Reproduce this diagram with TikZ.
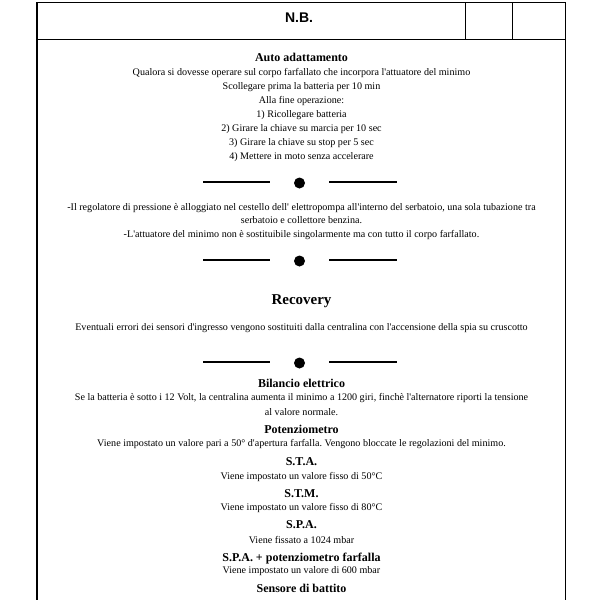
\documentclass[tikz,border=0pt]{standalone}
\usepackage{fontspec}
\setmainfont{Liberation Serif}[Ligatures=TeXOff]
\newfontfamily\nbfont{Liberation Sans}
\frenchspacing

\begin{document}
\begin{tikzpicture}[x=1pt,y=-1pt,inner sep=0pt,outer sep=0pt,
txt/.style={anchor=base,font=\fontsize{10.1}{12}\selectfont},
head/.style={anchor=base,font=\fontsize{12}{14}\selectfont\bfseries},
frameline/.style={line width=1.4pt},
sepline/.style={line width=1.1pt}]
\useasboundingbox (0,0) rectangle (600,600);

% frame and header
\draw[frameline] (37,600) -- (37,2.3) -- (565.5,2.3) -- (565.5,600);
\draw[frameline] (37,39.5) -- (565.5,39.5);
\draw[frameline] (465.5,2.3) -- (465.5,39.5);
\draw[frameline] (512.5,2.3) -- (512.5,39.5);
\draw (299,22.3) node[anchor=base,font=\nbfont\fontsize{14}{16}\selectfont\bfseries] (nb) {N.B.};

% separators
\foreach \y/\n in {182/1,260/2,362/3}{
  \draw[sepline] (203,\y) -- (270,\y);
  \draw[sepline] (329,\y) -- (397,\y);
  \fill (299.5,\y+1) circle (5.5);
}

% auto adattamento
\draw (301.5,61) node[head] (auto) {Auto adattamento};
\draw (301.5,75.5) node[txt] (qualora) {Qualora si dovesse operare sul corpo farfallato che incorpora l'attuatore del minimo};
\draw (301.5,89.5) node[txt] (scoll) {Scollegare prima la batteria per 10 min};
\draw (301.5,103.5) node[txt] (fine) {Alla fine operazione:};
\draw (301.5,117.5) node[txt] (step1) {1) Ricollegare batteria};
\draw (301.5,131.5) node[txt] (step2) {2) Girare la chiave su marcia per 10 sec};
\draw (301.5,145.5) node[txt] (step3) {3) Girare la chiave su stop per 5 sec};
\draw (301.5,159.5) node[txt] (step4) {4) Mettere in moto senza accelerare};

% regolatore / attuatore
\draw (301.5,210.5) node[txt] (regol) {-Il regolatore di pressione è alloggiato nel cestello dell' elettropompa all'interno del serbatoio, una sola tubazione tra};
\draw (301.5,223.5) node[txt] (regolb) {serbatoio e collettore benzina.};
\draw (301.5,237.5) node[txt] (attua) {-L'attuatore del minimo non è sostituibile singolarmente ma con tutto il corpo farfallato.};

% recovery
\draw (301.5,304) node[anchor=base,font=\fontsize{15}{18}\selectfont\bfseries] (recov) {Recovery};
\draw (301.5,330.5) node[txt] (errori) {Eventuali errori dei sensori d'ingresso vengono sostituiti dalla centralina con l'accensione della spia su cruscotto};

\draw (301.5,387) node[head] (bilan) {Bilancio elettrico};
\draw (301.5,400.5) node[txt] (batt) {Se la batteria è sotto i 12 Volt, la centralina aumenta il minimo a 1200 giri, finchè l'alternatore riporti la tensione};
\draw (301.5,415) node[txt] (battb) {al valore normale.};
\draw (301.5,433) node[head] (pot) {Potenziometro};
\draw (301.5,446.5) node[txt] (pottxt) {Viene impostato un valore pari a 50° d'apertura farfalla. Vengono bloccate le regolazioni del minimo.};
\draw (301.5,465) node[head] (sta) {S.T.A.};
\draw (301.5,479.5) node[txt] (statxt) {Viene impostato un valore fisso di 50°C};
\draw (301.5,497) node[head] (stm) {S.T.M.};
\draw (301.5,510.5) node[txt] (stmtxt) {Viene impostato un valore fisso di 80°C};
\draw (301.5,528.7) node[head] (spa) {S.P.A.};
\draw (301.5,543) node[txt] (spatxt) {Viene fissato a 1024 mbar};
\draw (301.5,561) node[head] (spapot) {S.P.A. + potenziometro farfalla};
\draw (301.5,573.5) node[txt] (spapottxt) {Viene impostato un valore di 600 mbar};
\draw (301.5,592) node[head] (batt2) {Sensore di battito};
\end{tikzpicture}
\end{document}
